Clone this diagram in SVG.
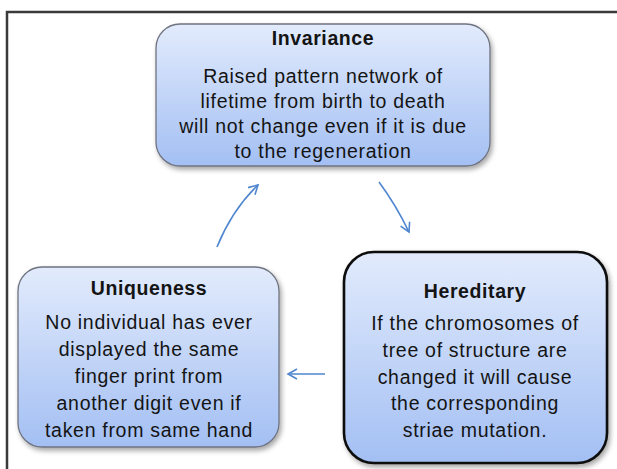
<svg xmlns="http://www.w3.org/2000/svg" width="617" height="469" viewBox="0 0 617 469">
<defs>
<linearGradient id="g" x1="0" y1="0" x2="0" y2="1">
<stop offset="0" stop-color="#e2ebfc"/>
<stop offset="1" stop-color="#a3bff3"/>
</linearGradient>
<filter id="sh" x="-10%" y="-10%" width="125%" height="130%">
<feDropShadow dx="2" dy="3" stdDeviation="2.5" flood-color="#000" flood-opacity="0.35"/>
</filter>
<marker id="ah" viewBox="0 0 12 12" refX="10" refY="6" markerWidth="12" markerHeight="12" markerUnits="userSpaceOnUse" orient="auto">
<path d="M1,1 L10,6 L1,11" fill="none" stroke="#4f86cf" stroke-width="1.6"/>
</marker>
</defs>
<style>
.box{fill:url(#g);stroke:#6f7380;stroke-width:1.3;filter:url(#sh)}
.box2{fill:url(#g);stroke:#111;stroke-width:2.6;filter:url(#sh)}
.t{font-family:"Liberation Sans",Arial,sans-serif;font-size:19.5px;letter-spacing:0.7px;fill:#141414;text-anchor:middle}
.h{font-weight:bold;letter-spacing:0.6px}
.c{fill:none;stroke:#4f86cf;stroke-width:1.6}
</style>
<rect x="0" y="0" width="617" height="469" fill="#fff"/>
<path d="M7,469 V12 H617" fill="none" stroke="#3a3a3a" stroke-width="2.5"/>
<g id="invariance">
<rect class="box" x="156" y="24" width="334" height="142" rx="24"/>
<text class="t h" x="323" y="45">Invariance</text>
<text class="t" x="323" y="83">Raised pattern network of</text>
<text class="t" x="323" y="108">lifetime from birth to death</text>
<text class="t" x="323" y="133">will not change even if it is due</text>
<text class="t" x="323" y="158">to the regeneration</text>
</g>
<g id="uniqueness">
<rect class="box" x="18" y="267" width="261" height="180" rx="24"/>
<text class="t h" x="149" y="295">Uniqueness</text>
<text class="t" x="149" y="329">No individual has ever</text>
<text class="t" x="149" y="356">displayed the same</text>
<text class="t" x="149" y="383">finger print from</text>
<text class="t" x="149" y="410">another digit even if</text>
<text class="t" x="149" y="437">taken from same hand</text>
</g>
<g id="hereditary">
<rect class="box2" x="344" y="252" width="263" height="211" rx="30"/>
<text class="t h" x="475" y="298">Hereditary</text>
<text class="t" x="475" y="330">If the chromosomes of</text>
<text class="t" x="475" y="357">tree of structure are</text>
<text class="t" x="475" y="384">changed it will cause</text>
<text class="t" x="475" y="410">the corresponding</text>
<text class="t" x="475" y="437">striae mutation.</text>
</g>
<g id="connectors">
<path class="c" d="M217,247 Q232,210 258,185" marker-end="url(#ah)"/>
<path class="c" d="M379,182 Q396,205 409,232" marker-end="url(#ah)"/>
<path class="c" d="M325,374 L288,374" marker-end="url(#ah)"/>
</g>
</svg>
